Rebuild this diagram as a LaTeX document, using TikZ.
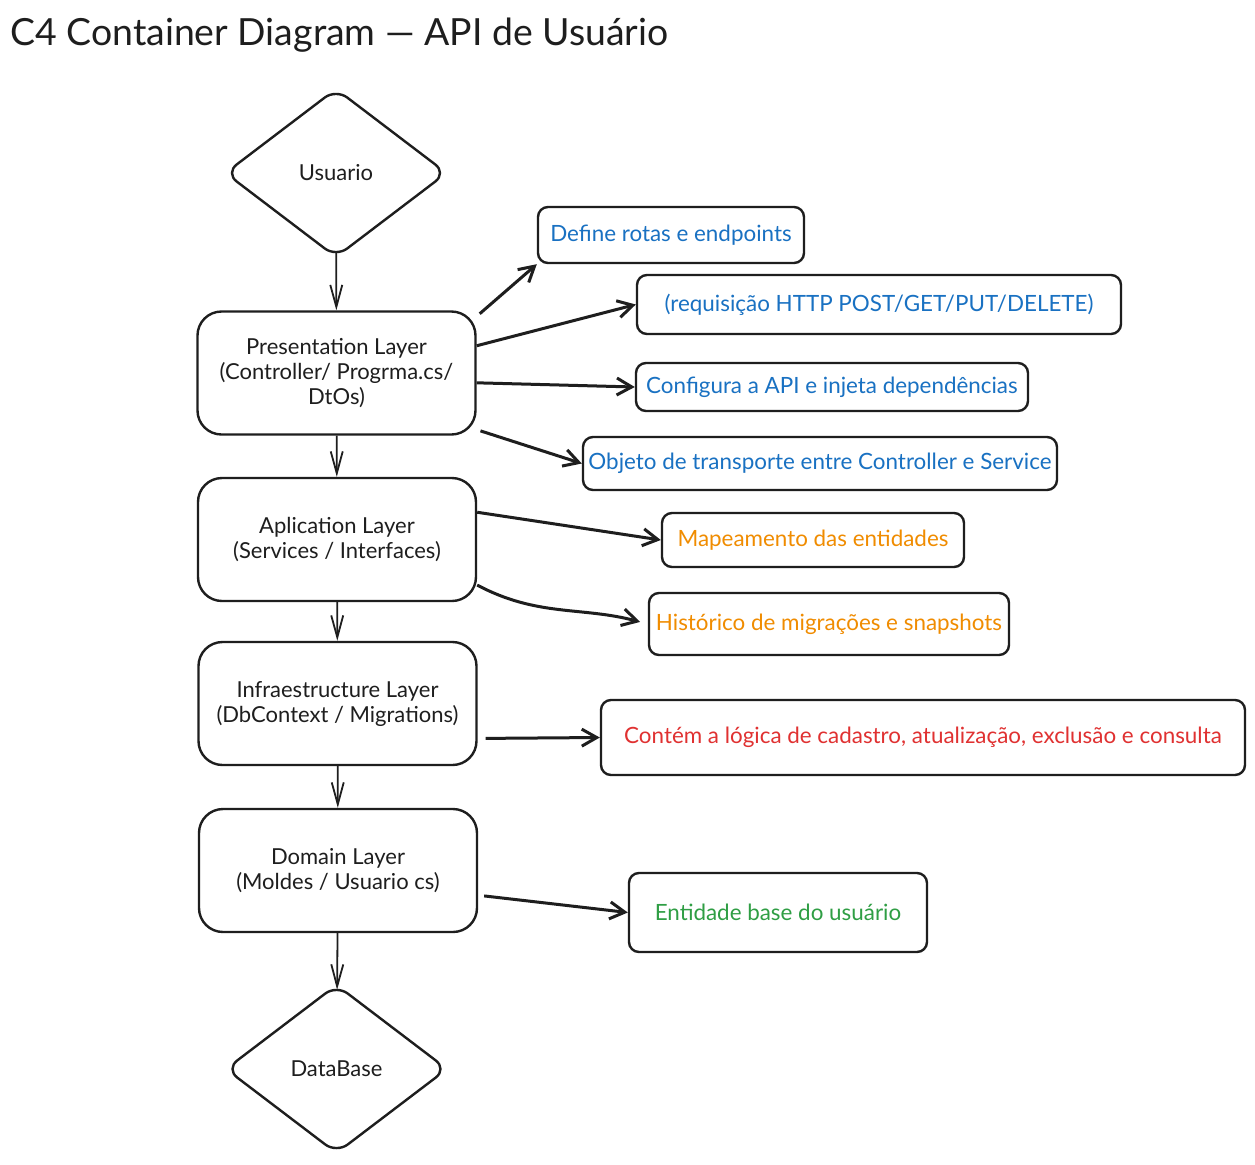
\documentclass[tikz,border=0pt]{standalone}
\usepackage{fontspec}
\setmainfont{Lato}
\usetikzlibrary{arrows.meta, shapes.geometric}
\definecolor{mydark}{HTML}{1E1E1E}
\definecolor{myblue}{HTML}{1971C2}
\definecolor{myorange}{HTML}{F08C00}
\definecolor{myred}{HTML}{E03131}
\definecolor{mygreen}{HTML}{2F9E44}
\tikzset{
  >={Straight Barb[length=7.5pt,width=8.5pt]},
  layer/.style={draw=mydark, line width=1.2pt, rounded corners=12pt, text=mydark,
    minimum width=139pt, minimum height=61.5pt, inner sep=0pt, align=center,
    font=\fontsize{11}{12.5}\selectfont},
  decision/.style={diamond, draw=mydark, line width=1.2pt, rounded corners=7pt, text=mydark,
    minimum width=111pt, minimum height=84.5pt, aspect=1.32, inner sep=0pt,
    font=\fontsize{11}{12.5}\selectfont},
  note/.style={draw=mydark, line width=1.2pt, rounded corners=5pt, inner sep=0pt,
    font=\fontsize{11.2}{12.5}\selectfont},
  note blue/.style={note, text=myblue},
  note orange/.style={note, text=myorange},
  note red/.style={note, text=myred},
  note green/.style={note, text=mygreen},
  flow/.style={-{Straight Barb[length=11pt,width=6pt]}, line width=0.9pt, mydark},
  link/.style={->, line width=1.5pt, mydark}
}
\begin{document}
\begin{tikzpicture}[x=0.5pt,y=0.5pt]
  \useasboundingbox[fill=white] (0,0) rectangle (1255,-1164);

  % --- TITLE ---
  \node[anchor=base west, inner sep=0pt, text=mydark, font=\fontsize{18.7}{21}\selectfont]
    (title) at (10,-45) {C4 Container Diagram — API de Usuário};

  % --- MAIN FLOW (x=336) ---
  \node[decision] (N-user) at (336,-173) {Usuario};
  \node[layer] (N-pres) at (336.5,-373) {Presentation Layer\\(Controller/ Progrma.cs/\\DtOs)};
  \node[layer] (N-apl) at (337,-539.5) {Aplication Layer\\(Services / Interfaces)};
  \node[layer] (N-infra) at (337.5,-703.5) {Infraestructure Layer\\(DbContext / Migrations)};
  \node[layer] (N-dom) at (338,-870.5) {Domain Layer\\(Moldes / Usuario cs)};
  \node[decision] (N-db) at (336.5,-1069) {DataBase};

  \draw[flow, shorten <=-3pt] (N-user) -- (N-pres);
  \draw[flow] (N-pres) -- (N-apl);
  \draw[flow] (N-apl) -- (N-infra);
  \draw[flow] (N-infra) -- (N-dom);
  \draw[flow, shorten >=-3pt] (N-dom) -- (N-db);

  % --- NOTES: PRESENTATION ---
  \node[note blue, minimum width=133pt, minimum height=28pt] (T-rotas) at (671,-235) {Define rotas e endpoints};
  \node[note blue, minimum width=242pt, minimum height=29.5pt] (T-http) at (879,-304.5) {(requisição HTTP POST/GET/PUT/DELETE)};
  \node[note blue, minimum width=196pt, minimum height=24pt] (T-conf) at (832,-387) {Configura a API e injeta dependências};
  \node[note blue, minimum width=237pt, minimum height=26.5pt] (T-obj) at (820,-463.5) {Objeto de transporte entre Controller e Service};

  \draw[link, shorten <=2pt] (N-pres.22) -- (T-rotas.south west);
  \draw[link] (N-pres.11) -- (T-http.west);
  \draw[link] (N-pres.-4) -- (T-conf.west);
  \draw[link, shorten <=2pt] (N-pres.-22) -- (T-obj.west);

  % --- NOTES: APLICATION ---
  \node[note orange, minimum width=151pt, minimum height=27pt] (T-map) at (813,-540) {Mapeamento das entidades};
  \node[note orange, minimum width=180pt, minimum height=31pt] (T-hist) at (829,-624) {Histórico de migrações e snapshots};

  \draw[link] (N-apl.11) -- (T-map.west);
  \draw[link, shorten >=4pt] (N-apl.-18) to[out=-28, in=165] (T-hist.west);

  % --- NOTES: INFRA / DOMAIN ---
  \node[note red, minimum width=322pt, minimum height=37.5pt] (T-logic) at (923,-737.5) {Contém a lógica de cadastro, atualização, exclusão e consulta};
  \node[note green, minimum width=149pt, minimum height=39.5pt] (T-ent) at (778,-912.5) {Entidade base do usuário};

  \draw[link, shorten <=4pt] (N-infra.-14) -- (T-logic.west);
  \draw[link, shorten <=3pt] (N-dom.-10) -- (T-ent.west);
\end{tikzpicture}
\end{document}
